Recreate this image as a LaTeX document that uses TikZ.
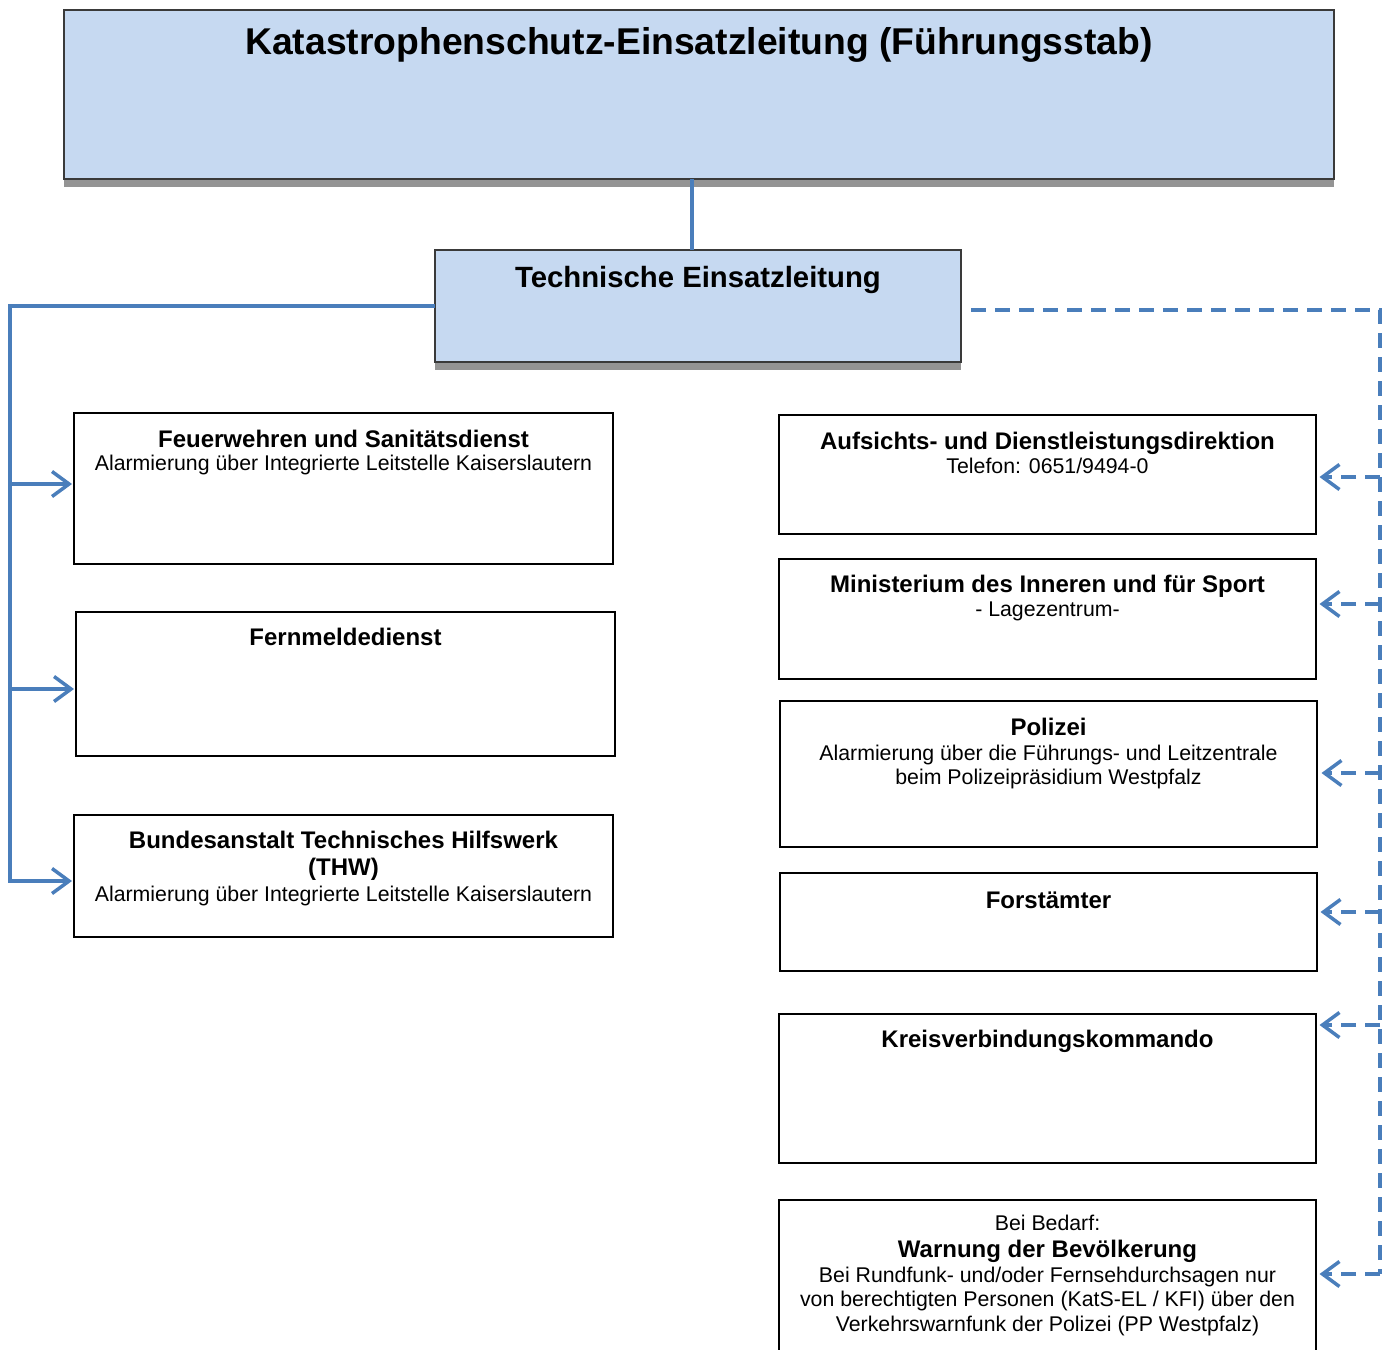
\documentclass[tikz,border=0pt]{standalone}
\usepackage{fontspec}
\setmainfont{Liberation Sans}
\usetikzlibrary{arrows.meta}

\definecolor{linkblue}{HTML}{4A7EBB}
\definecolor{leadfill}{HTML}{C6D9F1}
\definecolor{leadline}{HTML}{3A3A3A}

\newcommand\orgTitleFont{\fontsize{37.3}{44}\selectfont\bfseries}
\newcommand\orgLeadFont{\fontsize{29.3}{34}\selectfont\bfseries}
\newcommand\orgHeadFont{\fontsize{24}{24.5}\selectfont\bfseries}
\newcommand\orgBodyFont{\fontsize{21.3}{24.5}\selectfont\mdseries}

\tikzset{
  x=1pt, y=-1pt,
  unitbox/.style={draw=black, line width=1.2pt, inner sep=0pt, outer sep=0pt,
                  anchor=north west},
  leadbox/.style={unitbox, fill=leadfill, draw=leadline, line width=1.8pt},
  shadowstrip/.style={fill=black!42, draw=none},
  boxtext/.style={anchor=base, inner sep=0pt, align=center},
  conn/.style={draw=linkblue, line width=3.5pt},
  dconn/.style={conn, dash pattern=on 15pt off 9pt},
  barb/.style={-{Straight Barb[length=17pt, width=25pt]}},
}

\begin{document}
\begin{tikzpicture}
\clip (0,0) rectangle (1389,1349);
\fill[white] (0,0) rectangle (1389,1349);

% leadership boxes
\node[leadbox, minimum width=1270, minimum height=169] (top) at (64,10) {};
\fill[shadowstrip] ([yshift=-1]top.south west) rectangle ([yshift=-8]top.south east);
\node[boxtext] (toptext) at ([yshift=-44]top.north)
  {\orgTitleFont Katastrophenschutz-Einsatzleitung (Führungsstab)};

\node[leadbox, minimum width=526, minimum height=112] (tel) at (435,250) {};
\fill[shadowstrip] ([yshift=-1]tel.south west) rectangle ([yshift=-8]tel.south east);
\node[boxtext] (teltext) at ([yshift=-37]tel.north)
  {\orgLeadFont Technische Einsatzleitung};

% units on the left
\node[unitbox, minimum width=539, minimum height=151] (fw) at (74,413) {};
\node[boxtext] (fwtext) at ([yshift=-34]fw.north)
  {\parbox[t]{530pt}{\centering\orgHeadFont Feuerwehren und Sanitätsdienst\\[-1pt]
   \orgBodyFont Alarmierung über Integrierte Leitstelle Kaiserslautern}};

\node[unitbox, minimum width=539, minimum height=144] (fm) at (76,612) {};
\node[boxtext] (fmtext) at ([yshift=-33]fm.north)
  {\orgHeadFont Fernmeldedienst};

\node[unitbox, minimum width=539, minimum height=122] (thw) at (74,815) {};
\node[boxtext] (thwtext) at ([yshift=-33]thw.north)
  {\parbox[t]{530pt}{\centering\orgHeadFont Bundesanstalt Technisches Hilfswerk\\[2.5pt]
   (THW)\\[1.5pt]
   \orgBodyFont Alarmierung über Integrierte Leitstelle Kaiserslautern}};

% units on the right
\node[unitbox, minimum width=537, minimum height=119] (add) at (779,415) {};
\node[boxtext] (addtext) at ([yshift=-34]add.north)
  {\parbox[t]{530pt}{\centering\orgHeadFont Aufsichts- und Dienstleistungsdirektion\\
   \orgBodyFont Telefon: 0651/9494-0}};

\node[unitbox, minimum width=537, minimum height=120] (mdi) at (779,559) {};
\node[boxtext] (mditext) at ([yshift=-33]mdi.north)
  {\parbox[t]{530pt}{\centering\orgHeadFont Ministerium des Inneren und für Sport\\
   \orgBodyFont - Lagezentrum-}};

\node[unitbox, minimum width=537, minimum height=146] (pol) at (780,701) {};
\node[boxtext] (poltext) at ([yshift=-34]pol.north)
  {\parbox[t]{530pt}{\centering\orgHeadFont Polizei\\[0.5pt]
   \orgBodyFont Alarmierung über die Führungs- und Leitzentrale\\
   beim Polizeipräsidium Westpfalz}};

\node[unitbox, minimum width=537, minimum height=98] (forst) at (780,873) {};
\node[boxtext] (forsttext) at ([yshift=-35]forst.north)
  {\orgHeadFont Forstämter};

\node[unitbox, minimum width=537, minimum height=149] (kvk) at (779,1014) {};
\node[boxtext] (kvktext) at ([yshift=-33]kvk.north)
  {\orgHeadFont Kreisverbindungskommando};

\node[unitbox, minimum width=537, minimum height=170] (warn) at (779,1200) {};
\node[boxtext] (warntext) at ([yshift=-30]warn.north)
  {\parbox[t]{530pt}{\centering\orgBodyFont Bei Bedarf:\\[2.5pt]
   \orgHeadFont Warnung der Bevölkerung\\[0.5pt]
   \orgBodyFont Bei Rundfunk- und/oder Fernsehdurchsagen nur\\
   von berechtigten Personen (KatS-EL / KFI) über den\\
   Verkehrswarnfunk der Polizei (PP Westpfalz)}};

% link between the two leadership levels
\draw[conn] ([xshift=-7]top.south) -- ([xshift=-7]top.south |- tel.north);

% solid command lines on the left
\coordinate (ltop) at (10,306);
\coordinate (fwin)  at ([xshift=-2, yshift=4.5]fw.west);
\coordinate (fmin)  at ([xshift=-2, yshift=-5]fm.west);
\coordinate (thwin) at ([xshift=-2, yshift=-5]thw.west);
\draw[conn] (tel.west) -- (ltop) -- ([yshift=-1.75]ltop |- thwin);
\draw[conn, barb] (ltop |- fwin) -- (fwin);
\draw[conn, barb] (ltop |- fmin) -- (fmin);
\draw[conn, barb] (ltop |- thwin) -- (thwin);

% dashed information lines on the right
\coordinate (rtop) at (1380,310);
\coordinate (addin)   at ([xshift=3.5, yshift=-2.5]add.east);
\coordinate (mdiin)   at ([xshift=3.5, yshift=15]mdi.east);
\coordinate (polin)   at ([xshift=4.5, yshift=1]pol.east);
\coordinate (forstin) at ([xshift=3.5, yshift=10]forst.east);
\coordinate (kvkin)   at ([xshift=3.5, yshift=63.5]kvk.east);
\coordinate (warnin)  at ([xshift=3.5, yshift=11]warn.east);
\draw[dconn] ([xshift=10]tel.east |- rtop) -- (rtop) -- (rtop |- warnin);
\foreach \t in {addin, mdiin, polin, forstin, kvkin, warnin}
  \draw[dconn, barb] (rtop |- \t) -- (\t);
\end{tikzpicture}
\end{document}
